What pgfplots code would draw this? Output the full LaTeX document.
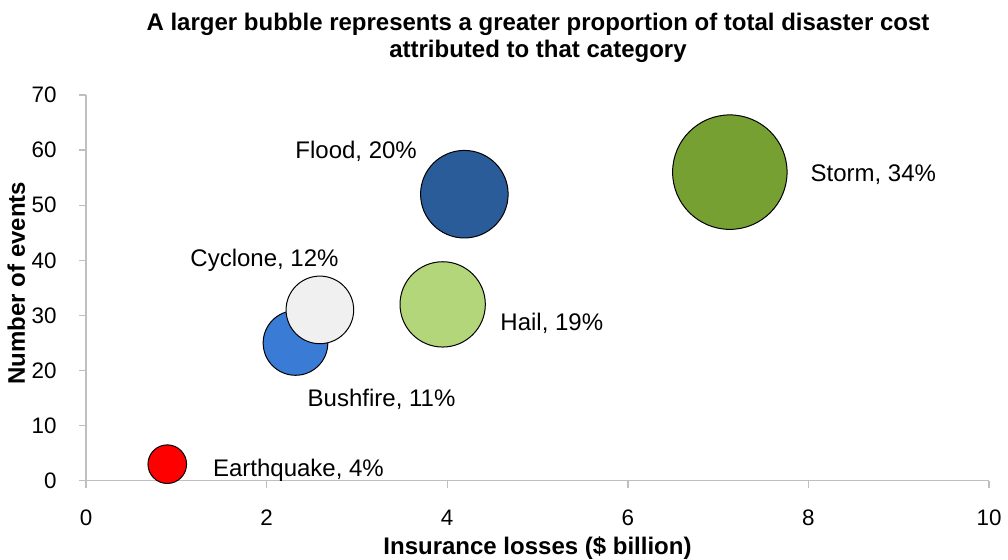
\documentclass[border=0pt]{standalone}
\usepackage{fontspec}
\setmainfont{Liberation Sans}
\usepackage{pgfplots}
\pgfplotsset{compat=1.18}
\definecolor{axisgray}{RGB}{191,191,191}
\definecolor{stormc}{RGB}{119,160,51}
\definecolor{floodc}{RGB}{42,92,154}
\definecolor{hailc}{RGB}{179,214,122}
\definecolor{cyclonec}{RGB}{240,240,240}
\definecolor{bushc}{RGB}{58,123,213}
\definecolor{quakec}{RGB}{255,0,0}
\begin{document}
\begin{tikzpicture}
\path[use as bounding box] (-43pt,-39.15pt) rectangle (461pt,240.35pt);
\begin{axis}[
  scale only axis,
  width=451.5pt, height=192.85pt,
  xmin=0, xmax=10, ymin=0, ymax=70,
  xtick={0,2,...,10}, ytick={0,10,...,70},
  axis x line*=bottom, axis y line*=left,
  axis line style={draw=axisgray, line width=0.7pt},
  tick style={draw=axisgray, line width=0.7pt},
  tick align=outside,
  major tick length=3.5pt,
  /pgf/number format/assume math mode=true,
  tick label style={font=\fontsize{11.2}{13}\selectfont, inner sep=0pt},
  xticklabel style={anchor=base, yshift=-18.65pt},
  yticklabel style={anchor=east, xshift=-11pt},
]
% size = share of total disaster cost (%); bubble area proportional to share
\addplot[only marks, mark=*, mark size={4.95*sqrt(34)-0.25}, mark options={fill=stormc, draw=black, line width=0.5pt}] coordinates {(7.13,56)};
\addplot[only marks, mark=*, mark size={4.95*sqrt(20)-0.25}, mark options={fill=floodc, draw=black, line width=0.5pt}] coordinates {(4.19,52)};
\addplot[only marks, mark=*, mark size={4.95*sqrt(19)-0.25}, mark options={fill=hailc, draw=black, line width=0.5pt}] coordinates {(3.95,32)};
\addplot[only marks, mark=*, mark size={4.95*sqrt(11)-0.25}, mark options={fill=bushc, draw=black, line width=0.5pt}] coordinates {(2.32,25)};
\addplot[only marks, mark=*, mark size={4.95*sqrt(12)-0.25}, mark options={fill=cyclonec, draw=black, line width=0.5pt}] coordinates {(2.59,31)};
\addplot[only marks, mark=*, mark size={4.95*sqrt(4)-0.25}, mark options={fill=quakec, draw=black, line width=0.5pt}] coordinates {(0.90,3)};
\begin{scope}[every node/.style={font=\fontsize{12}{14}\selectfont, inner sep=0pt, anchor=base west}]
\node at (axis cs:8.02,54.3) {Storm, 34\%};
\node at (axis cs:2.315,58.4) {Flood, 20\%};
\node at (axis cs:4.585,27.2) {Hail, 19\%};
\node at (axis cs:1.152,38.8) {Cyclone, 12\%};
\node at (axis cs:2.451,13.4) {Bushfire, 11\%};
\node at (axis cs:1.403,0.85) {Earthquake, 4\%};
\end{scope}
\end{axis}
\node[font=\bfseries\fontsize{12}{14}\selectfont, anchor=base, inner sep=0pt] at (226pt,225.35pt) {A larger bubble represents a greater proportion of total disaster cost};
\node[font=\bfseries\fontsize{12}{14}\selectfont, anchor=base, inner sep=0pt] at (226pt,211.7pt) {attributed to that category};
\node[font=\bfseries\fontsize{12}{14}\selectfont, anchor=base, inner sep=0pt, rotate=90] at (-30.5pt,98.85pt) {Number of events};
\node[font=\bfseries\fontsize{12}{14}\selectfont, anchor=base, inner sep=0pt] at (225.75pt,-36.9pt) {Insurance losses (\$ billion)};
\end{tikzpicture}
\end{document}
